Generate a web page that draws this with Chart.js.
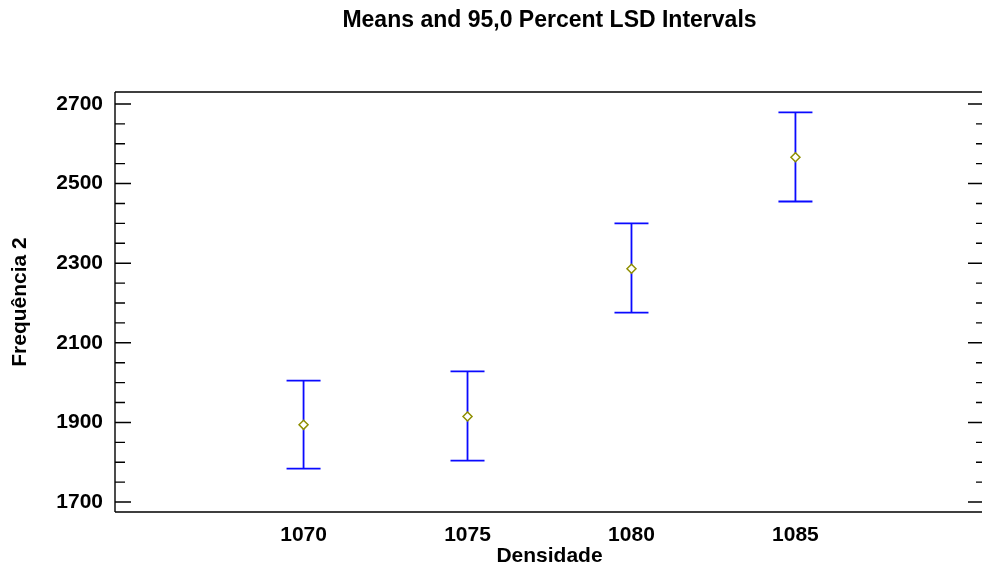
<!DOCTYPE html>
<html>
<head>
<meta charset="utf-8">
<script src="https://cdn.jsdelivr.net/npm/chart.js@4.4.1/dist/chart.umd.min.js"></script>
<style>
  html, body { margin: 0; padding: 0; background: #fff; overflow: hidden; }
  #wrap { width: 990px; height: 576px; position: relative; }
</style>
</head>
<body>
<div id="wrap"><canvas id="lsd"></canvas></div>
<script>
/* data */
const densidade = [1070, 1075, 1080, 1085];
const means     = [1894, 1915, 2286, 2566];
const lower     = [1784, 1804, 2176, 2455];
const upper     = [2005, 2028, 2400, 2679];
const yTicks    = [1700, 1900, 2100, 2300, 2500, 2700];
const xTicks    = [1070, 1075, 1080, 1085];

const FONT = "'Liberation Sans', Arial, sans-serif";

/* ── error bars under the means ── */
const errorBars = {
  id: 'errorBars',
  beforeDatasetsDraw(chart) {
    const { ctx, scales: { x, y } } = chart;
    ctx.save();
    ctx.strokeStyle = '#0a0aff';
    ctx.lineWidth = 1.8;
    densidade.forEach((d, i) => {
      const px = x.getPixelForValue(d);
      const yl = y.getPixelForValue(lower[i]);
      const yu = y.getPixelForValue(upper[i]);
      ctx.beginPath();
      ctx.moveTo(px, yu); ctx.lineTo(px, yl);
      ctx.moveTo(px - 17, yu); ctx.lineTo(px + 17, yu);
      ctx.moveTo(px - 17, yl); ctx.lineTo(px + 17, yl);
      ctx.stroke();
    });
    ctx.restore();
  }
};

/* ── frame, inward ticks and the title ── */
const frame = {
  id: 'frame',
  afterDraw(chart) {
    const { ctx, chartArea: a, scales: { y } } = chart;
    ctx.save();
    ctx.strokeStyle = '#000';
    ctx.lineWidth = 1.4;
    ctx.beginPath();
    ctx.moveTo(a.left, a.top); ctx.lineTo(a.left, a.bottom);
    ctx.moveTo(a.left, a.top); ctx.lineTo(chart.width, a.top);
    ctx.moveTo(a.left, a.bottom); ctx.lineTo(chart.width, a.bottom);
    for (let v = Math.ceil(y.min / 50) * 50; v <= y.max; v += 50) {
      const py = y.getPixelForValue(v);
      const major = (v - 1700) % 200 === 0;
      ctx.moveTo(a.left, py); ctx.lineTo(a.left + (major ? 16 : 10), py);
      ctx.moveTo(a.right, py); ctx.lineTo(a.right - (major ? 16 : 8), py);
    }
    ctx.stroke();

    ctx.fillStyle = '#000';
    ctx.font = 'bold 23px ' + FONT;
    ctx.textAlign = 'center';
    ctx.textBaseline = 'middle';
    ctx.fillText('Means and 95,0 Percent LSD Intervals', (a.left + a.right) / 2, 21);
    ctx.restore();
  }
};

new Chart(document.getElementById('lsd'), {
  type: 'scatter',
  data: {
    datasets: [{
      label: 'Means',
      data: densidade.map((d, i) => ({ x: d, y: means[i] })),
      pointStyle: 'rectRot',
      pointRadius: 4.5,
      pointBorderWidth: 1.5,
      borderColor: '#8f8f00',
      backgroundColor: '#ffffff'
    }]
  },
  options: {
    responsive: true,
    maintainAspectRatio: false,
    animation: false,
    layout: { padding: { top: 92, right: 2, left: 0, bottom: 0 } },
    plugins: {
      legend: { display: false },
      tooltip: { enabled: false },
      title: { display: false }
    },
    scales: {
      x: {
        type: 'linear',
        min: 1064.25,
        max: 1090.75,
        afterBuildTicks: s => { s.ticks = xTicks.map(v => ({ value: v })); },
        afterFit: s => { s.height = 64; s.paddingLeft = 0; s.paddingRight = 0; },
        grid: { display: false, drawTicks: false },
        border: { display: false },
        ticks: {
          color: '#000', padding: 11, callback: v => String(v),
          font: { family: FONT, size: 21, weight: 'bold' }
        },
        title: {
          display: true, text: 'Densidade', color: '#000',
          font: { family: FONT, size: 21, weight: 'bold' },
          padding: { top: 0, bottom: 7 }
        }
      },
      y: {
        min: 1675,
        max: 2730,
        afterBuildTicks: s => { s.ticks = yTicks.map(v => ({ value: v })); },
        afterFit: s => { s.width = 115; s.paddingTop = 0; s.paddingBottom = 0; },
        grid: { display: false, drawTicks: false },
        border: { display: false },
        ticks: {
          color: '#000', padding: 12, callback: v => String(v),
          font: { family: FONT, size: 21, weight: 'bold' }
        },
        title: {
          display: true, text: 'Frequência 2', color: '#000',
          font: { family: FONT, size: 21, weight: 'bold' },
          padding: { top: 8, bottom: 0 }
        }
      }
    }
  },
  plugins: [errorBars, frame]
});
</script>
</body>
</html>
